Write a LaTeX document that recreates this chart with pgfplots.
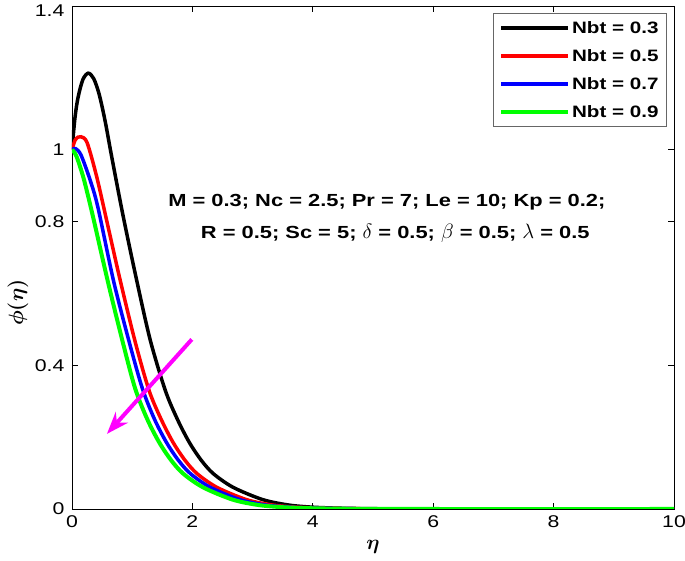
\documentclass[border=0pt]{standalone}
\usepackage{amsmath}
\usepackage{bm}
\usepackage{fontspec}
\setmainfont{Liberation Sans}[FakeStretch=1.25]
\usepackage{pgfplots}
\pgfplotsset{compat=1.18}
\usetikzlibrary{arrows.meta}
\definecolor{cgreen}{RGB}{0,255,0}
\definecolor{cred}{RGB}{255,0,0}
\definecolor{cblue}{RGB}{0,0,255}
\definecolor{cmag}{RGB}{255,0,255}
\newcommand{\gk}[1]{{\fontsize{20}{20}\selectfont$#1$}}
\begin{document}
\begin{tikzpicture}
\useasboundingbox (-72pt,-52pt) rectangle (613pt,509pt);
\begin{axis}[
  at={(0,0)}, anchor=south west,
  scale only axis, width=602pt, height=503pt,
  xmin=0, xmax=10, ymin=0, ymax=1.4,
  xtick={0,2,4,6,8,10}, xticklabels={0,2,4,6,8,10},
  ytick={0,0.4,0.8,1,1.4}, yticklabels={0,0.4,0.8,1,\raisebox{-11pt}[0pt][0pt]{1.4}},
  tick align=inside, major tick length=6pt,
  axis line style={line width=0.8pt},
  tick style={line width=0.8pt, black},
  /pgf/number format/assume math mode=true,
  ticklabel style={font=\fontsize{17}{20}\selectfont},
  yticklabel style={xshift=-4pt},
  xticklabel style={yshift=-3pt},
  xlabel={$\bm{\eta}$},
  xlabel style={at={(axis description cs:0.5,0)}, anchor=center, yshift=-38pt, font=\fontsize{20}{24}\selectfont},
  ylabel={$\bm{\phi(\eta)}$},
  ylabel style={at={(axis description cs:-0.09,0.41)}, anchor=center, font=\fontsize{20}{24}\selectfont},
  legend cell align=left,
  legend image code/.code={\draw[#1] (0pt,0pt) -- (67pt,0pt);},
  legend style={at={(1,1)}, anchor=north east, xshift=-7pt, yshift=-7pt,
    draw=black!60, line width=0.8pt, inner xsep=6pt, inner ysep=6pt,
    row sep=10.5pt, font=\bfseries\fontsize{16.5}{19}\selectfont},
]
\addplot[black, line width=3.5pt, smooth, tension=0.5] coordinates {
(0,1.0) (0.05,1.09) (0.1,1.145) (0.18,1.195) (0.27,1.213) (0.36,1.198) (0.45,1.155)
(0.55,1.08) (0.66,0.98) (0.85,0.815) (1.07,0.64) (1.3,0.47) (1.55,0.33)
(1.75,0.25) (1.95,0.185) (2.15,0.135) (2.35,0.098) (2.68,0.06) (3.17,0.026) (3.6,0.011)
(4.0,0.005) (4.5,0.002) (5.2,0.0005) (6,0) (10,0)};
\addlegendentry{Nbt = 0.3}
\addplot[cred, line width=3.5pt, smooth, tension=0.5] coordinates {
(0,1.0) (0.05,1.026) (0.1,1.035) (0.15,1.036) (0.25,1.02) (0.41,0.925)
(0.58,0.80) (0.80,0.637) (1.05,0.465) (1.28,0.33) (1.48,0.25) (1.68,0.185)
(1.88,0.135) (2.08,0.098) (2.41,0.06) (2.9,0.026) (3.33,0.011) (3.73,0.005) (4.23,0.002)
(4.93,0.0005) (6,0) (10,0)};
\addlegendentry{Nbt = 0.5}
\addplot[cblue, line width=3.5pt, smooth, tension=0.5] coordinates {
(0,1.0) (0.06,1.003) (0.15,0.985) (0.3,0.916) (0.43,0.84) (0.69,0.635)
(0.95,0.465) (1.17,0.335) (1.37,0.25) (1.57,0.185) (1.77,0.135) (1.97,0.098) (2.3,0.06)
(2.79,0.026) (3.22,0.011) (3.62,0.005) (4.12,0.002) (4.82,0.0005) (6,0) (10,0)};
\addlegendentry{Nbt = 0.7}
\addplot[cgreen, line width=4pt, smooth, tension=0.5] coordinates {
(0,1.0) (0.05,0.99) (0.1,0.97) (0.2,0.916) (0.34,0.82) (0.6,0.63)
(0.85,0.46) (1.05,0.335) (1.25,0.25) (1.45,0.185) (1.65,0.135) (1.85,0.098) (2.18,0.06)
(2.67,0.026) (3.1,0.011) (3.5,0.005) (4.0,0.002) (4.7,0.0005) (6,0) (10,0)};
\addlegendentry{Nbt = 0.9}
\addplot[cmag, line width=4pt, -{Stealth[length=22pt,width=16pt,inset=7pt]}, forget plot] coordinates {(1.99,0.472) (0.58,0.209)};
\node[font=\bfseries\fontsize{17.5}{21}\selectfont] at (axis cs:5.23,0.854) {M = 0.3; Nc = 2.5; Pr = 7; Le = 10; Kp = 0.2;};
\node[font=\bfseries\fontsize{17.5}{21}\selectfont] at (axis cs:5.37,0.768) {R = 0.5; Sc = 5; \gk{\delta} = 0.5; \gk{\beta} = 0.5; \gk{\lambda} = 0.5};
\end{axis}
\end{tikzpicture}
\end{document}
